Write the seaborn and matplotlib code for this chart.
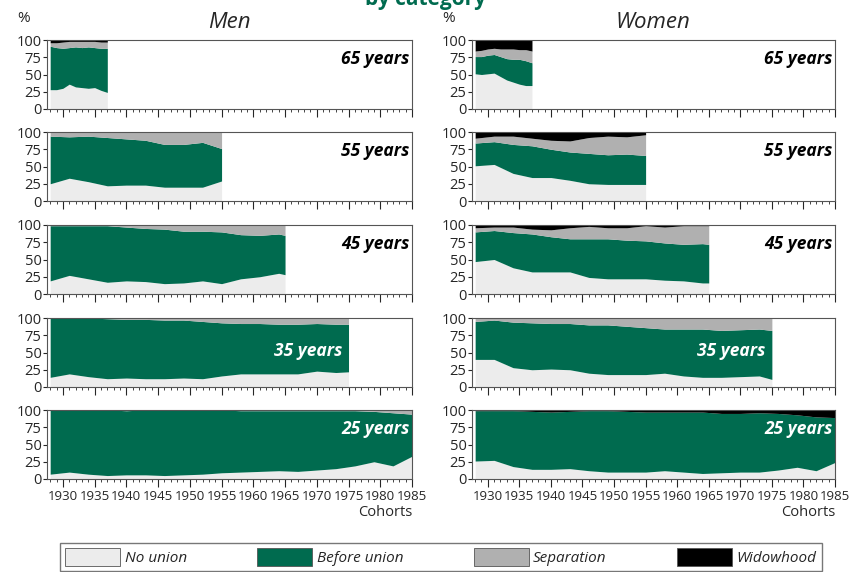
import matplotlib
matplotlib.use("Agg")
import matplotlib.pyplot as plt
import numpy as np
import seaborn as sns
from matplotlib.patches import Patch

sns.set_style("ticks")
plt.rcParams['font.family'] = ['Open Sans', 'DejaVu Sans']

# cohort years sampled per age panel
yrs65 = [1928, 1929, 1930, 1931, 1932, 1933, 1934, 1935, 1936, 1937]
yrs55 = [1928, 1931, 1934, 1937, 1940, 1943, 1946, 1949, 1952, 1955]
yrs45 = [1928, 1931, 1934, 1937, 1940, 1943, 1946, 1949, 1952, 1955, 1958, 1961, 1964, 1965]
yrs35 = [1928, 1931, 1934, 1937, 1940, 1943, 1946, 1949, 1952, 1955, 1958, 1961, 1964, 1967, 1970, 1973, 1975]
yrs25 = [1928, 1931, 1934, 1937, 1940, 1943, 1946, 1949, 1952, 1955, 1958, 1961, 1964, 1967, 1970, 1973, 1976, 1979, 1982, 1985]

# cumulative upper bounds (%): no union, before union, separation; widowhood fills to 100
men_nu = {65: [28, 28, 30, 36, 32, 31, 30, 31, 27, 24],
          55: [25, 33, 28, 22, 23, 23, 20, 20, 20, 29],
          45: [19, 27, 22, 17, 19, 18, 15, 16, 19, 15, 22, 25, 30, 28],
          35: [14, 19, 15, 12, 13, 12, 12, 13, 12, 16, 19, 19, 19, 19, 23, 21, 22],
          25: [7, 10, 7, 5, 6, 6, 5, 6, 7, 9, 10, 11, 12, 11, 13, 15, 19, 25, 19, 33]}
men_bu = {65: [91, 89, 88, 89, 90, 89, 90, 89, 88, 88],
          55: [94, 93, 94, 92, 90, 88, 82, 82, 85, 76],
          45: [99, 99, 99, 99, 97, 95, 94, 91, 91, 90, 86, 85, 87, 85],
          35: [100, 100, 100, 99, 98, 98, 97, 97, 95, 93, 92, 92, 91, 91, 92, 91, 91],
          25: [100, 100, 100, 100, 99, 100, 100, 100, 100, 100, 99, 99, 99, 99, 99, 99, 99, 98, 96, 94]}
men_sep = {65: [96, 96, 97, 98, 98, 98, 98, 98, 97, 97],
           55: [100] * 10, 45: [100] * 14, 35: [100] * 17, 25: [100] * 20}

women_nu = {65: [51, 50, 51, 52, 47, 42, 39, 36, 34, 34],
            55: [51, 53, 40, 34, 34, 30, 25, 24, 24, 24],
            45: [47, 50, 38, 32, 32, 32, 24, 22, 22, 22, 20, 19, 16, 16],
            35: [40, 40, 28, 25, 26, 25, 20, 18, 18, 18, 20, 16, 14, 14, 15, 16, 11],
            25: [26, 27, 18, 14, 14, 15, 12, 10, 10, 10, 12, 10, 8, 9, 10, 10, 13, 17, 12, 24]}
women_bu = {65: [76, 76, 78, 79, 76, 73, 72, 72, 70, 67],
            55: [84, 86, 82, 80, 75, 71, 69, 67, 68, 66],
            45: [90, 92, 89, 87, 83, 80, 80, 80, 78, 77, 74, 72, 73, 72],
            35: [95, 97, 94, 93, 92, 92, 90, 90, 88, 86, 84, 84, 84, 82, 83, 84, 82],
            25: [99, 99, 99, 98, 97, 98, 99, 99, 98, 97, 97, 97, 97, 95, 95, 96, 95, 93, 90, 89]}
women_sep = {65: [84, 85, 87, 88, 87, 87, 87, 86, 86, 84],
             55: [91, 94, 94, 91, 88, 87, 92, 94, 93, 96],
             45: [96, 97, 97, 94, 93, 96, 98, 96, 96, 99, 97, 99, 99, 99],
             35: [100] * 17,
             25: [99, 99, 99, 98, 97, 98, 99, 99, 98, 97, 97, 97, 97, 95, 95, 96, 95, 93, 90, 89]}

ages = [65, 55, 45, 35, 25]
years = {65: yrs65, 55: yrs55, 45: yrs45, 35: yrs35, 25: yrs25}
categories = ["No union", "Before union", "Separation", "Widowhood"]
colors = ["#ececec", "#006b4f", "#b0b0b0", "#000000"]

fig = plt.figure(figsize=(8.51, 5.72), dpi=100)
row_tops = [40, 132, 225, 318, 410]
row_h = 69
cols = [(47, 412), (472, 835)]
W, H = 851, 572

for ci, (nu, bu, sep) in enumerate([(men_nu, men_bu, men_sep), (women_nu, women_bu, women_sep)]):
    x0, x1 = cols[ci]
    for ri, age in enumerate(ages):
        top = row_tops[ri]
        ax = fig.add_axes([x0 / W, 1 - (top + row_h) / H, (x1 - x0) / W, row_h / H])
        x = np.array(years[age])
        bounds = [np.zeros(len(x)), np.array(nu[age]), np.array(bu[age]),
                  np.array(sep[age]), np.full(len(x), 100)]
        for k in range(4):
            ax.fill_between(x, bounds[k], bounds[k + 1], color=colors[k], lw=0)
        ax.set_xlim(1927.5, 1985)
        ax.set_ylim(0, 100)
        ax.set_yticks([0, 25, 50, 75, 100])
        ax.tick_params(axis='y', labelsize=10.5, length=3, pad=1)
        ax.set_xticks(range(1930, 1986, 5))
        ax.set_xticks(range(1928, 1986), minor=True)
        ax.tick_params(axis='x', which='major', length=6, labelsize=9.5, pad=2)
        ax.tick_params(axis='x', which='minor', length=2.5)
        if ri < 4:
            ax.set_xticklabels([])
        else:
            ax.set_xticklabels([str(v) for v in range(1930, 1986, 5)])
            ax.set_xlabel("Cohorts", fontsize=10.5, loc='right', labelpad=1)
        for s in ax.spines.values():
            s.set_color("#555555")
            s.set_linewidth(0.8)
        inside = age <= 35
        xpos = 1974 if age == 35 else 1984.6
        ax.text(xpos, 72 if age != 35 else 52, f"{age} years",
                ha='right', va='center',
                fontsize=12.5, fontweight='bold', style='italic',
                color='white' if inside else 'black')
    fig.text((x0 + x1) / 2 / W, 1 - 23 / H, ["Men", "Women"][ci], ha='center',
             va='center', fontsize=16, style='italic')
    fig.text(x0 / W - 0.035, 1 - 19 / H, "%", fontsize=11, ha='left', va='center')

fig.text(0.5, 1.0, "by category", color="#006b4f", fontsize=15, fontweight='bold',
         ha='center', va='center')

handles = [Patch(facecolor=c, edgecolor='#555555', lw=0.6) for c in colors]
leg = fig.legend(handles, categories, loc='center', bbox_to_anchor=(0.518, 1 - 557 / H),
                 ncol=4, frameon=True, fancybox=False, edgecolor='#555555',
                 prop={'size': 11, 'style': 'italic'}, handlelength=3.6, handleheight=1.4,
                 columnspacing=4.6, borderpad=0.35, handletextpad=0.3)

fig.savefig("out.png", dpi=100)
